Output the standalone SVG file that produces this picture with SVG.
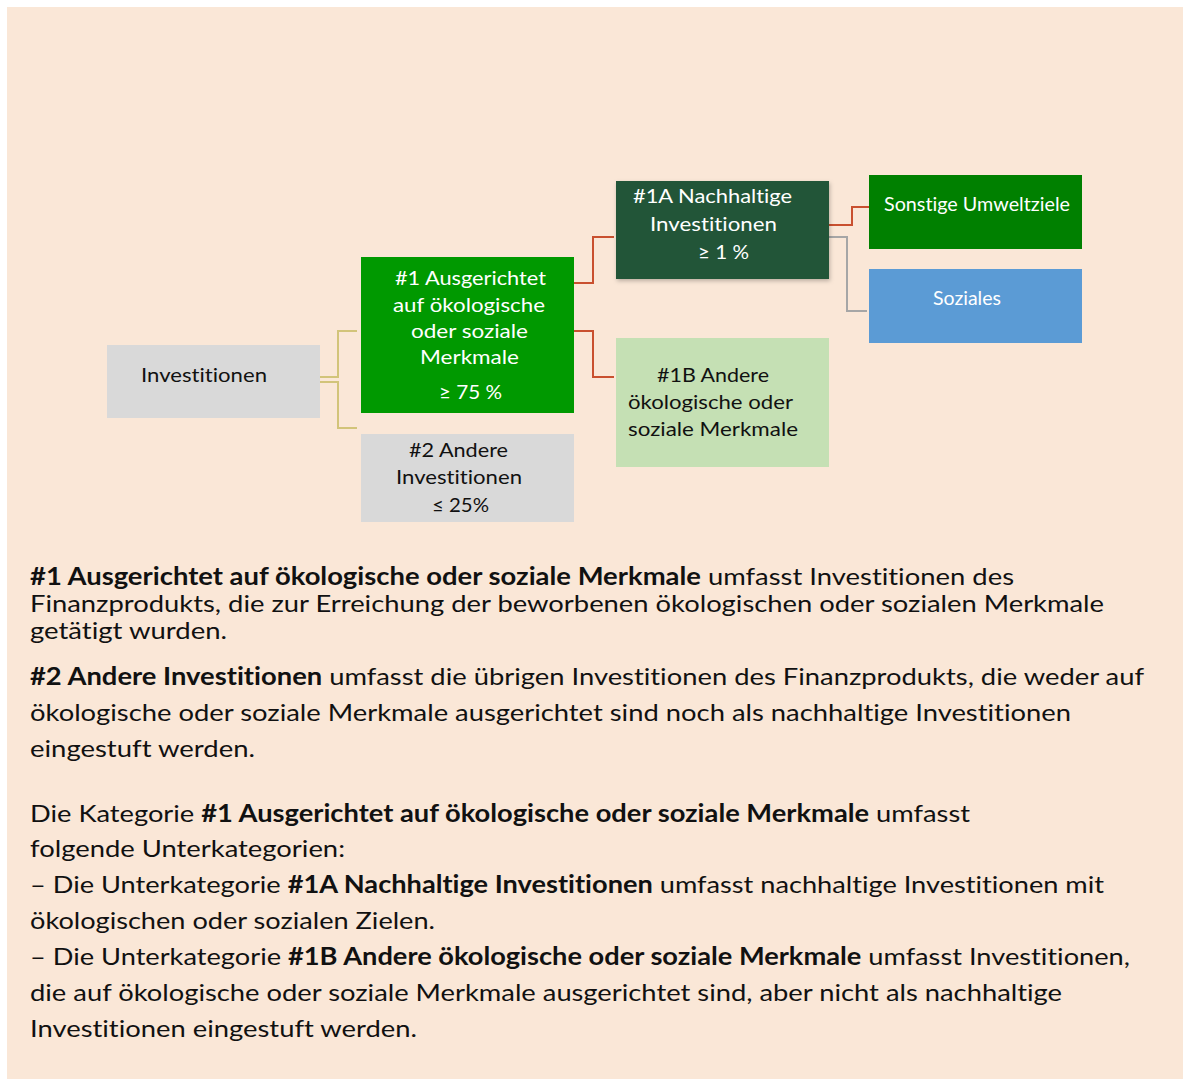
<svg xmlns="http://www.w3.org/2000/svg" width="1189" height="1079" viewBox="0 0 1189 1079">
<style>
text{font-family:Lato,"Liberation Sans","DejaVu Sans",sans-serif;font-variant-ligatures:none;font-feature-settings:"liga" 0,"clig" 0;}
.n{font-size:20px;}
.w{fill:#ffffff;}
.k{fill:#111111;}
.p{font-size:24px;fill:#111111;}
.b{font-weight:bold;}
.c{fill:none;stroke-width:2;}
.tan{stroke:#D2C47A;}
.red{stroke:#C9502F;}
.gry{stroke:#A6A6A6;}
</style>
<defs>
<filter id="sh" x="-10%" y="-10%" width="125%" height="130%">
<feDropShadow dx="1" dy="2" stdDeviation="2" flood-color="#000" flood-opacity="0.25"/>
</filter>
</defs>
<rect x="0" y="0" width="1189" height="1079" fill="#ffffff"/>
<rect x="7" y="7" width="1176" height="1072" fill="#FAE7D7"/>

<g id="connectors">
<polyline class="c tan" points="320,377 338,377 338,331 357,331"/>
<polyline class="c tan" points="320,382 338,382 338,428 357,428"/>
<polyline class="c red" points="574,283 593,283 593,237 614,237"/>
<polyline class="c red" points="574,331 593,331 593,377 614,377"/>
<polyline class="c red" points="829,225 852,225 852,207 869,207"/>
<polyline class="c gry" points="829,237 847,237 847,311 867,311"/>
</g>

<g id="investitionen">
<rect x="107" y="345" width="213" height="73" fill="#D9D9D9"/>
<text class="n k" x="141" y="382" textLength="126" lengthAdjust="spacingAndGlyphs">Investitionen</text>
</g>

<g id="n1">
<rect x="361" y="257" width="213" height="156" fill="#009900"/>
<text class="n w" x="395" y="285" textLength="151" lengthAdjust="spacingAndGlyphs">#1 Ausgerichtet</text>
<text class="n w" x="393" y="312" textLength="152" lengthAdjust="spacingAndGlyphs">auf ökologische</text>
<text class="n w" x="411" y="338" textLength="117" lengthAdjust="spacingAndGlyphs">oder soziale</text>
<text class="n w" x="420" y="364" textLength="99" lengthAdjust="spacingAndGlyphs">Merkmale</text>
<text class="n w" x="439" y="399" textLength="63" lengthAdjust="spacingAndGlyphs">≥ 75 %</text>
</g>

<g id="n2">
<rect x="361" y="434" width="213" height="88" fill="#D9D9D9"/>
<text class="n k" x="409" y="457" textLength="99" lengthAdjust="spacingAndGlyphs">#2 Andere</text>
<text class="n k" x="396" y="484" textLength="126" lengthAdjust="spacingAndGlyphs">Investitionen</text>
<text class="n k" x="432" y="512" textLength="57" lengthAdjust="spacingAndGlyphs">≤ 25%</text>
</g>

<g id="n1a">
<rect x="616" y="181" width="213" height="98" fill="#245439" filter="url(#sh)"/>
<text class="n w" x="633" y="203" textLength="159" lengthAdjust="spacingAndGlyphs">#1A Nachhaltige</text>
<text class="n w" x="650" y="231" textLength="127" lengthAdjust="spacingAndGlyphs">Investitionen</text>
<text class="n w" x="698" y="259" textLength="51" lengthAdjust="spacingAndGlyphs">≥ 1 %</text>
</g>

<g id="n1b">
<rect x="616" y="338" width="213" height="129" fill="#C5E0B4"/>
<text class="n k" x="657" y="382" textLength="112" lengthAdjust="spacingAndGlyphs">#1B Andere</text>
<text class="n k" x="628" y="409" textLength="165" lengthAdjust="spacingAndGlyphs">ökologische oder</text>
<text class="n k" x="628" y="436" textLength="170" lengthAdjust="spacingAndGlyphs">soziale Merkmale</text>
</g>

<g id="sonstige">
<rect x="869" y="175" width="213" height="74" fill="#008000"/>
<text class="n w" x="884" y="211" textLength="186" lengthAdjust="spacingAndGlyphs">Sonstige Umweltziele</text>
</g>

<g id="soziales">
<rect x="869" y="269" width="213" height="74" fill="#5B9BD5"/>
<text class="n w" x="933" y="305" textLength="68" lengthAdjust="spacingAndGlyphs">Soziales</text>
</g>

<g id="text">
<text class="p" x="30" y="585" textLength="984" lengthAdjust="spacingAndGlyphs"><tspan class="b">#1 Ausgerichtet auf ökologische oder soziale Merkmale</tspan> umfasst Investitionen des</text>
<text class="p" x="30" y="612" textLength="1074" lengthAdjust="spacingAndGlyphs">Finanzprodukts, die zur Erreichung der beworbenen ökologischen oder sozialen Merkmale</text>
<text class="p" x="30" y="639" textLength="197" lengthAdjust="spacingAndGlyphs">getätigt wurden.</text>

<text class="p" x="30" y="685" textLength="1114" lengthAdjust="spacingAndGlyphs"><tspan class="b">#2 Andere Investitionen</tspan> umfasst die übrigen Investitionen des Finanzprodukts, die weder auf</text>
<text class="p" x="30" y="721" textLength="1041" lengthAdjust="spacingAndGlyphs">ökologische oder soziale Merkmale ausgerichtet sind noch als nachhaltige Investitionen</text>
<text class="p" x="30" y="757" textLength="225" lengthAdjust="spacingAndGlyphs">eingestuft werden.</text>

<text class="p" x="30" y="822" textLength="940" lengthAdjust="spacingAndGlyphs">Die Kategorie <tspan class="b">#1 Ausgerichtet auf ökologische oder soziale Merkmale</tspan> umfasst</text>
<text class="p" x="30" y="857" textLength="315" lengthAdjust="spacingAndGlyphs">folgende Unterkategorien:</text>
<text class="p" x="30" y="893" textLength="1074" lengthAdjust="spacingAndGlyphs">– Die Unterkategorie <tspan class="b">#1A Nachhaltige Investitionen</tspan> umfasst nachhaltige Investitionen mit</text>
<text class="p" x="30" y="929" textLength="405" lengthAdjust="spacingAndGlyphs">ökologischen oder sozialen Zielen.</text>
<text class="p" x="30" y="965" textLength="1100" lengthAdjust="spacingAndGlyphs">– Die Unterkategorie <tspan class="b">#1B Andere ökologische oder soziale Merkmale</tspan> umfasst Investitionen,</text>
<text class="p" x="30" y="1001" textLength="1032" lengthAdjust="spacingAndGlyphs">die auf ökologische oder soziale Merkmale ausgerichtet sind, aber nicht als nachhaltige</text>
<text class="p" x="30" y="1037" textLength="387" lengthAdjust="spacingAndGlyphs">Investitionen eingestuft werden.</text>
</g>
</svg>
